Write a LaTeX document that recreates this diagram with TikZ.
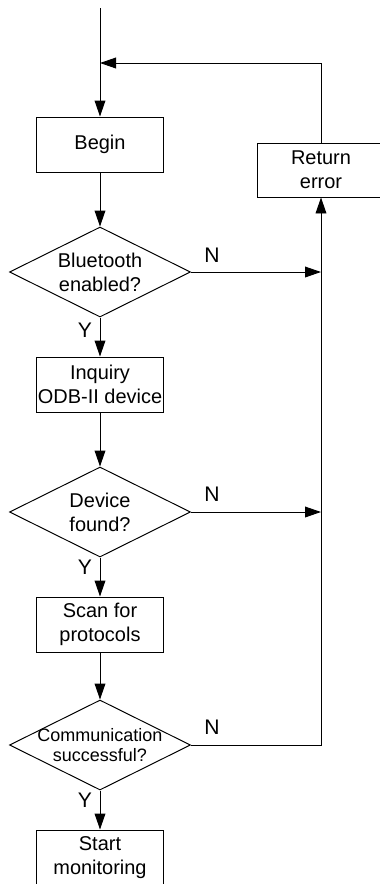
\documentclass[tikz,border=0pt]{standalone}
\usepackage{fontspec}
\setmainfont{Liberation Sans}
\usetikzlibrary{arrows.meta,positioning,shapes.geometric}

\tikzset{
    stepbox/.style={draw, minimum width=3.175cm, minimum height=1.375cm, inner sep=0pt, align=center, font=\fontsize{14.2}{17}\selectfont},
    decision/.style={draw, diamond, minimum width=4.525cm, minimum height=2.25cm, inner sep=0pt},
    dtext/.style={align=center, font=\fontsize{14.2}{17}\selectfont},
    yn/.style={font=\fontsize{15}{15}\selectfont},
    flow/.style={-{Triangle[length=4mm,width=2.7mm]}}
}

\begin{document}
\begin{tikzpicture}[line width=0.7pt]
            \useasboundingbox (0,0) rectangle (9.5,-22.1);
            \node[stepbox] (beg) at (2.5,-3.6125) {Begin};
            \node[stepbox, minimum width=3.2cm, minimum height=1.35cm] (ret) at (8.025,-4.25) {Return\\error};
            \node[decision] (bt) at (2.5,-6.8) {};
            \node[dtext] (bttxt) at (bt) {Bluetooth\\enabled?};
            \node[stepbox] (inq) at (2.5,-9.6125) {Inquiry\\ODB-II device};
            \node[decision] (dev) at (2.5,-12.8) {};
            \node[dtext] (devtxt) at (dev) {Device\\found?};
            \node[stepbox] (scan) at (2.5,-15.6125) {Scan for\\protocols};
            \node[decision] (comm) at (2.5,-18.625) {};
            \node[dtext, font=\fontsize{12.8}{14.5}\selectfont] (commtxt) at (comm) {Communication\\successful?};
            \node[stepbox] (start) at (2.5,-21.4375) {Start\\monitoring};
            \coordinate (top) at (2.5,-0.2);
            \coordinate (join) at (2.5,-1.575);
            \coordinate (j1) at (8.025,-6.8);
            \coordinate (j2) at (8.025,-12.8);
            \draw[flow] (top) -- (beg);
            \foreach \a/\b in {beg/bt, bt/inq, inq/dev, dev/scan, scan/comm, comm/start}{
                    \draw[flow] (\a) -- (\b);
                }
            \draw[flow] (ret.north) |- (join);
            \draw[flow] (bt.east) -- (j1);
            \draw[flow] (dev.east) -- (j2);
            \draw[flow] (comm.east) -| (ret.south);
            \node[yn] (n1) at (5.3,-6.375) {N};
            \node[yn] (n2) at (5.3,-12.35) {N};
            \node[yn] (n3) at (5.3,-18.175) {N};
            \node[yn] (y1) at (2.125,-8.25) {Y};
            \node[yn] (y2) at (2.125,-14.175) {Y};
            \node[yn] (y3) at (2.125,-20.0) {Y};
        \end{tikzpicture}
\end{document}
